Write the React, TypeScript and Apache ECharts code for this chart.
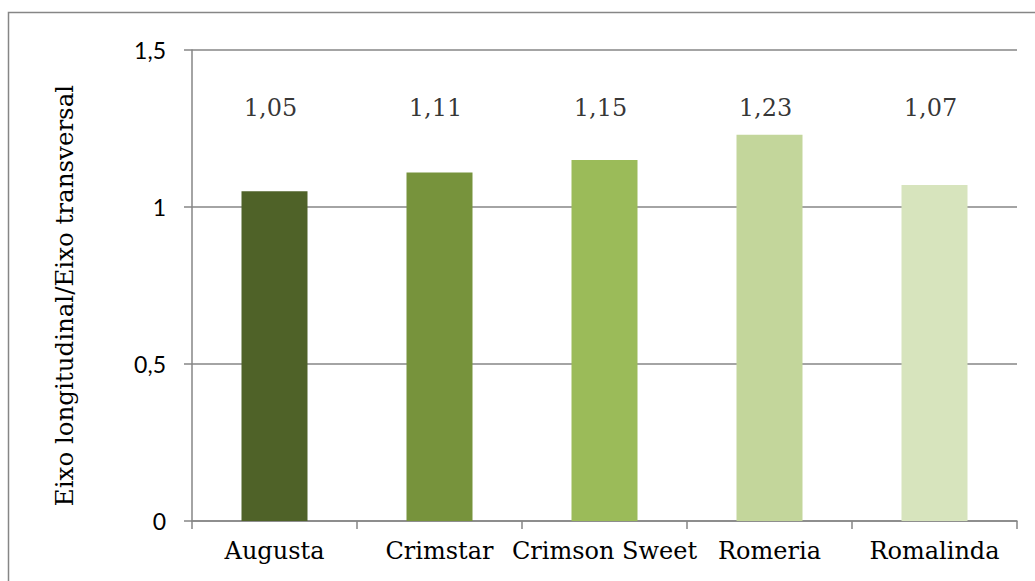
import React, { useEffect, useRef } from "react";
import * as echarts from "echarts";

const categories = ["Augusta", "Crimstar", "Crimson Sweet", "Romeria", "Romalinda"];
const values = [1.05, 1.11, 1.15, 1.23, 1.07];
const barColors = ["#4F6228", "#77933C", "#9BBB59", "#C3D69B", "#D7E4BD"];
const yTicks = [0, 0.5, 1, 1.5];
const labelLevel = 1.315;
const yTitle = "Eixo longitudinal/Eixo transversal";

const fmt = (v: number) => String(v).replace(".", ",");

export default function App() {
  const ref = useRef<HTMLDivElement>(null);
  useEffect(() => {
    if (!ref.current) return;
    const chart = echarts.init(ref.current, undefined, { renderer: "svg" });
    const axisColor = "#868686";
    chart.setOption({
      animation: false,
      backgroundColor: "#ffffff",
      grid: { left: 192, top: 50, right: 18, bottom: 60 },
      graphic: [
        {
          type: "rect",
          shape: { x: 8.5, y: 12.5, width: 1100, height: 700 },
          style: { fill: "none", stroke: axisColor, lineWidth: 1.5 },
          silent: true,
          z: -1,
        },
      ],
      xAxis: {
        type: "category",
        data: categories,
        axisLine: { show: true, lineStyle: { color: axisColor, width: 1.5 } },
        axisTick: { show: true, length: 8, lineStyle: { color: axisColor, width: 1.5 } },
        axisLabel: {
          color: "#000",
          fontFamily: "DejaVu Serif",
          fontSize: 24,
          margin: 18,
          interval: 0,
        },
      },
      yAxis: {
        type: "value",
        min: 0,
        max: 1.5,
        interval: 0.5,
        name: yTitle,
        nameLocation: "middle",
        nameGap: 115,
        nameTextStyle: { color: "#000", fontFamily: "DejaVu Serif", fontSize: 24.5, padding: [0, 0, 0, -20] },
        axisLine: { show: true, lineStyle: { color: axisColor, width: 1.5 } },
        axisTick: { show: true, length: 8, lineStyle: { color: axisColor, width: 1.5 } },
        splitLine: { show: true, lineStyle: { color: axisColor, width: 1.5 } },
        axisLabel: {
          color: "#000",
          fontFamily: "Lato",
          fontSize: 23,
          margin: 26,
          formatter: (v: number) => (yTicks.includes(v) ? fmt(v) : ""),
        },
      },
      series: [
        {
          type: "bar",
          barWidth: "40%",
          data: values.map((v, i) => ({ value: v, itemStyle: { color: barColors[i] } })),
        },
        {
          type: "scatter",
          symbolSize: 0,
          data: categories.map((c) => [c, labelLevel]),
          label: {
            show: true,
            position: "inside",
            color: "#000",
            fontFamily: "DejaVu Serif",
            fontSize: 24,
            offset: [-4, 0],
            formatter: (p: any) => fmt(values[p.dataIndex]),
          },
          silent: true,
        },
      ],
    });
    return () => chart.dispose();
  }, []);
  return <div ref={ref} style={{ width: 1035, height: 581, position: "absolute", left: 0, top: 0 }} />;
}
